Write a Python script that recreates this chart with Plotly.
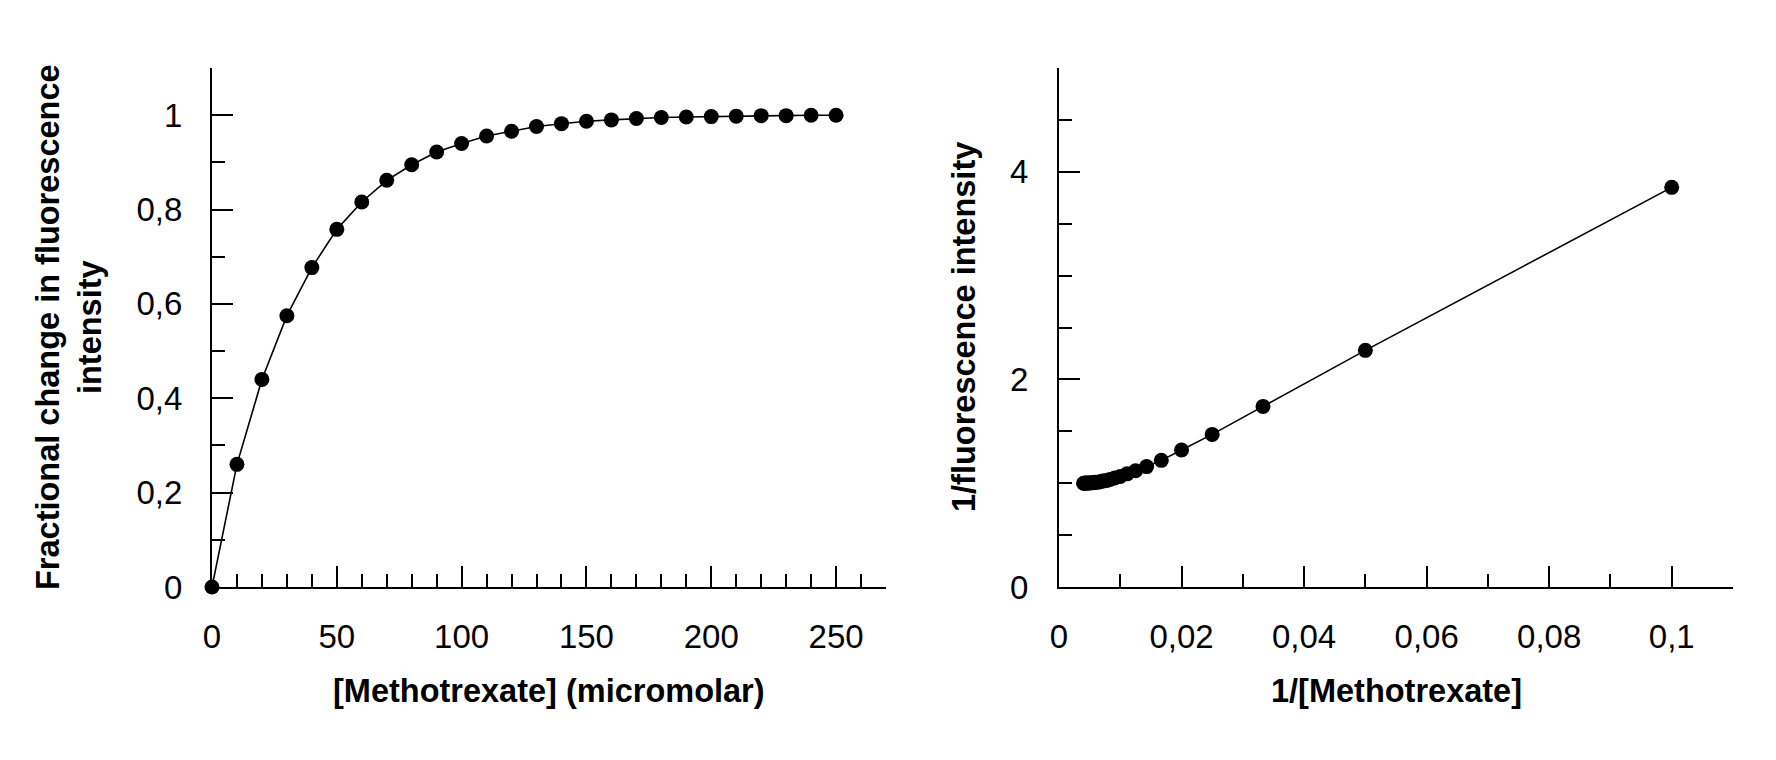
import plotly.graph_objects as go

# Left panel data: concentration (micromolar) vs fractional change
conc = [0, 10, 20, 30, 40, 50, 60, 70, 80, 90, 100, 110, 120, 130, 140, 150,
        160, 170, 180, 190, 200, 210, 220, 230, 240, 250]
frac = [0, 0.26, 0.44, 0.575, 0.677, 0.758, 0.816, 0.862, 0.895, 0.922, 0.940,
        0.956, 0.966, 0.976, 0.982, 0.987, 0.990, 0.993, 0.995, 0.996, 0.997,
        0.998, 0.999, 0.999, 1.0, 1.0]

# Right panel data: 1/[Methotrexate] vs 1/fluorescence intensity
inv_conc = [0.1, 0.05, 0.0333, 0.025, 0.02, 0.0167, 0.0143, 0.0125, 0.0111, 0.01,
            0.0091, 0.0083, 0.0077, 0.0071, 0.0067, 0.0063, 0.0059, 0.0056,
            0.0053, 0.005, 0.0048, 0.0045, 0.0043, 0.0042, 0.004]
inv_fluo = [3.85, 2.28, 1.74, 1.47, 1.32, 1.22, 1.16, 1.12, 1.09, 1.065, 1.05,
            1.035, 1.025, 1.02, 1.015, 1.01, 1.008, 1.005, 1.004, 1.003, 1.002,
            1.001, 1.001, 1.0, 1.0]

W, H = 1776, 760
FONT = "Liberation Sans, Arial, sans-serif"
TICKFONT = dict(family=FONT, size=33, color="black")
TITLEFONT = dict(family=FONT, size=32.5, color="black")

fig = go.Figure()
trace_style = dict(mode="lines+markers",
                   line=dict(color="black", width=1.6),
                   marker=dict(color="black", size=15, line=dict(width=0)),
                   showlegend=False, cliponaxis=False)
fig.add_trace(go.Scatter(x=conc, y=frac, xaxis="x", yaxis="y", **trace_style))
fig.add_trace(go.Scatter(x=inv_conc, y=inv_fluo, xaxis="x2", yaxis="y2", **trace_style))

def px_x(p):
    return p / W

def px_y(p):
    return 1 - p / H

ydom = [px_y(587), px_y(68)]
axis_common = dict(showline=True, linecolor="black", linewidth=2,
                   showgrid=False, zeroline=False, ticks="inside",
                   tickcolor="black", tickwidth=2, ticklen=21,
                   tickfont=TICKFONT, automargin=False)

fig.update_layout(
    width=W, height=H,
    margin=dict(l=0, r=0, t=0, b=0, pad=0, autoexpand=False),
    paper_bgcolor="white", plot_bgcolor="white",
    separators=", ",
    xaxis=dict(domain=[px_x(212), px_x(886)], range=[0, 270], anchor="y",
               tickmode="linear", tick0=0, dtick=50, ticklabelstandoff=19,
               minor=dict(ticks="inside", ticklen=13, tickwidth=2,
                          tickcolor="black", dtick=10, tick0=0, showgrid=False),
               **axis_common),
    yaxis=dict(domain=ydom, range=[0, 1.1], anchor="x",
               tickmode="linear", tick0=0, dtick=0.2, ticklabelstandoff=21,
               minor=dict(ticks="inside", ticklen=13, tickwidth=2,
                          tickcolor="black", dtick=0.1, tick0=0, showgrid=False),
               **axis_common),
    xaxis2=dict(domain=[px_x(1059), px_x(1733)], range=[0, 0.11], anchor="y2",
                tickmode="linear", tick0=0, dtick=0.02, ticklabelstandoff=19,
                minor=dict(ticks="inside", ticklen=13, tickwidth=2,
                           tickcolor="black", dtick=0.01, tick0=0, showgrid=False),
                **axis_common),
    yaxis2=dict(domain=ydom, range=[0, 5], anchor="x2",
                tickmode="linear", tick0=0, dtick=2, ticklabelstandoff=22,
                minor=dict(ticks="inside", ticklen=13, tickwidth=2,
                           tickcolor="black", dtick=0.5, tick0=0, showgrid=False),
                **axis_common),
)

annotations = [
    dict(text="<b>[Methotrexate] (micromolar)</b>", x=px_x(549), y=px_y(691)),
    dict(text="<b>1/[Methotrexate]</b>", x=px_x(1396), y=px_y(691)),
    dict(text="<b>Fractional change in fluorescence<br>intensity</b>",
         x=px_x(69), y=px_y(327), textangle=-90),
    dict(text="<b>1/fluorescence intensity</b>", x=px_x(964), y=px_y(327),
         textangle=-90),
]
for a in annotations:
    fig.add_annotation(xref="paper", yref="paper", showarrow=False,
                       xanchor="center", yanchor="middle",
                       font=TITLEFONT, **a)

fig.write_html("out.html")
